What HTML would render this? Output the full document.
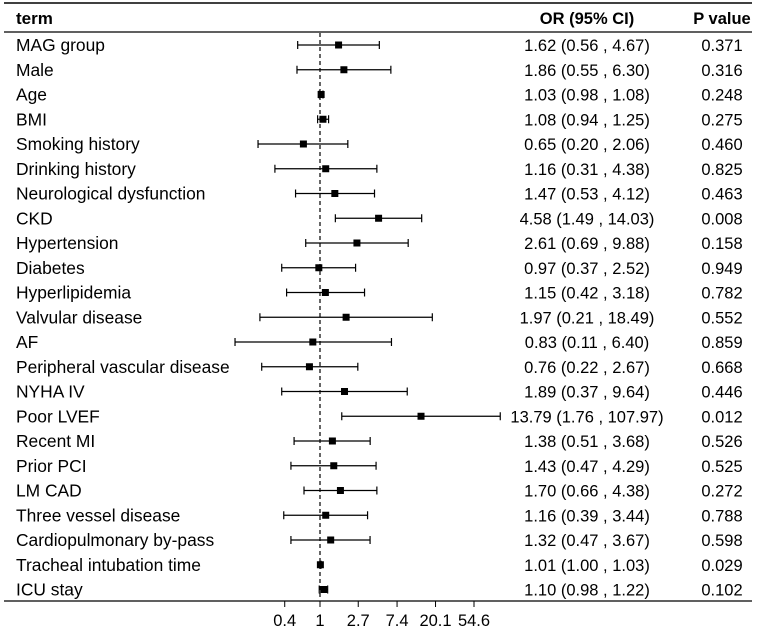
<!DOCTYPE html>
<html><head><meta charset="utf-8"><style>
html,body{margin:0;padding:0;background:#fff;}
svg{display:block;font-family:"Liberation Sans",Arial,sans-serif;}
</style></head><body>
<svg id="chart" width="757" height="635"></svg>
<script>
const terms=["MAG group","Male","Age","BMI","Smoking history","Drinking history","Neurological dysfunction","CKD","Hypertension","Diabetes","Hyperlipidemia","Valvular disease","AF","Peripheral vascular disease","NYHA IV","Poor LVEF","Recent MI","Prior PCI","LM CAD","Three vessel disease","Cardiopulmonary by-pass","Tracheal intubation time","ICU stay"];
const orVals=[1.62,1.86,1.03,1.08,0.65,1.16,1.47,4.58,2.61,0.97,1.15,1.97,0.83,0.76,1.89,13.79,1.38,1.43,1.70,1.16,1.32,1.01,1.10];
const lowVals=[0.56,0.55,0.98,0.94,0.20,0.31,0.53,1.49,0.69,0.37,0.42,0.21,0.11,0.22,0.37,1.76,0.51,0.47,0.66,0.39,0.47,1.00,0.98];
const highVals=[4.67,6.30,1.08,1.25,2.06,4.38,4.12,14.03,9.88,2.52,3.18,18.49,6.40,2.67,9.64,107.97,3.68,4.29,4.38,3.44,3.67,1.03,1.22];
const orLabels=["1.62 (0.56 , 4.67)","1.86 (0.55 , 6.30)","1.03 (0.98 , 1.08)","1.08 (0.94 , 1.25)","0.65 (0.20 , 2.06)","1.16 (0.31 , 4.38)","1.47 (0.53 , 4.12)","4.58 (1.49 , 14.03)","2.61 (0.69 , 9.88)","0.97 (0.37 , 2.52)","1.15 (0.42 , 3.18)","1.97 (0.21 , 18.49)","0.83 (0.11 , 6.40)","0.76 (0.22 , 2.67)","1.89 (0.37 , 9.64)","13.79 (1.76 , 107.97)","1.38 (0.51 , 3.68)","1.43 (0.47 , 4.29)","1.70 (0.66 , 4.38)","1.16 (0.39 , 3.44)","1.32 (0.47 , 3.67)","1.01 (1.00 , 1.03)","1.10 (0.98 , 1.22)"];
const pVals=["0.371","0.316","0.248","0.275","0.460","0.825","0.463","0.008","0.158","0.949","0.782","0.552","0.859","0.668","0.446","0.012","0.526","0.525","0.272","0.788","0.598","0.029","0.102"];
const tickVals=[0.4,1,2.7,7.4,20.1,54.6];
const tickLabels=["0.4","1","2.7","7.4","20.1","54.6"];

const NS="http://www.w3.org/2000/svg";
const svg=document.getElementById('chart');
const xs=v=>320+38.5*Math.log(v);
const ys=i=>45+24.75*i;
function mk(tag,attrs,parent){const e=document.createElementNS(NS,tag);for(const k in attrs)e.setAttribute(k,attrs[k]);(parent||svg).appendChild(e);return e;}
function txt(x,y,s,anchor,bold,fs){const t=mk('text',{x:x,y:y,'font-size':fs||16.5,'text-anchor':anchor,fill:'#000'});if(bold)t.setAttribute('font-weight','bold');t.textContent=s;return t;}

let e;
e=mk('line',{x1:4,x2:752,y1:3,y2:3,stroke:'#000','stroke-width':1.5});


e=mk('line',{x1:4,x2:752,y1:32,y2:32,stroke:'#000','stroke-width':1.2});


e=mk('line',{x1:4,x2:752,y1:601,y2:601,stroke:'#000','stroke-width':1.2});



e=txt(16,24,'term','start',true,17);


e=txt(587,24,'OR (95% CI)','middle',true);


e=txt(722,24,'P value','middle',true);



e=mk('line',{x1:xs(1),x2:xs(1),y1:33,y2:600,stroke:'#000','stroke-width':1.2,'stroke-dasharray':'4,3'});



tickVals.forEach((v,i)=>{
  const t=mk('line',{x1:xs(v),x2:xs(v),y1:601,y2:607,stroke:'#000','stroke-width':1});
  
  
  const l=txt(xs(v),626,tickLabels[i],'middle',false);
  
  
});

terms.forEach((name,i)=>{
  const y=ys(i);
  const g=mk('g',{});
  
  
  const tl=txt(16,y+6,name,'start',false,17.4);g.appendChild(tl);
  
  
  const x1=xs(lowVals[i]),x2=xs(highVals[i]);
  const ci=mk('line',{x1:x1,x2:x2,y1:y,y2:y,stroke:'#000','stroke-width':1.2},g);
  
  
  [x1,x2].forEach(xx=>{const c=mk('line',{x1:xx,x2:xx,y1:y-4,y2:y+4,stroke:'#000','stroke-width':1.2},g);
    
    });
  const sq=mk('rect',{x:xs(orVals[i])-3.5,y:y-3.5,width:7,height:7,fill:'#000'},g);
  
  
  const ol=txt(587,y+6,orLabels[i],'middle',false);g.appendChild(ol);
  
  
  const pl=txt(722,y+6,pVals[i],'middle',false);g.appendChild(pl);
  
  
});
</script>
</body></html>
